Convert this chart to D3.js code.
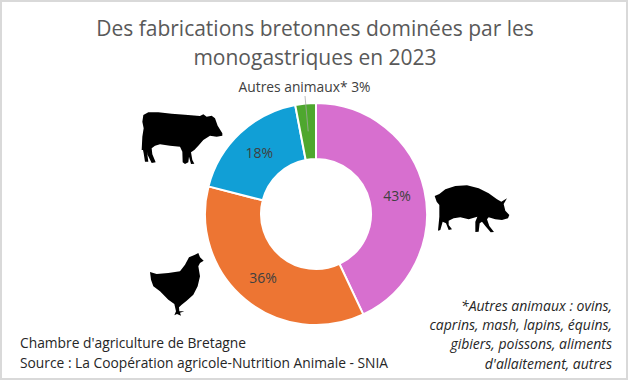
<!DOCTYPE html>
<html lang="fr">
<head>
<meta charset="utf-8">
<title>Fabrications bretonnes 2023</title>
<script src="https://cdn.jsdelivr.net/npm/d3@7"></script>
<style>
  html, body { margin: 0; padding: 0; background: #fff; }
  svg { display: block; }
  text { font-family: "Open Sans", "Noto Sans", sans-serif; }
</style>
</head>
<body>
<div id="chart"></div>
<script>
const categories = ['Porcs', 'Volailles', 'Bovins', 'Autres animaux*'];
const shares = [43, 36, 18, 3];
const sliceColors = ['#d76fcf', '#ed7533', '#119fd6', '#4ea72e'];
const titleLines = ['Des fabrications bretonnes dominées par les', 'monogastriques en 2023'];
const sourceLines = ["Chambre d'agriculture de Bretagne", 'Source : La Coopération agricole-Nutrition Animale - SNIA'];
const noteLines = ['*Autres animaux : ovins,', 'caprins, mash, lapins, équins,', 'gibiers, poissons, aliments', "d'allaitement, autres"];

// Silhouette outlines, traced on the zoomed crops (3x)
const cowShape = [[25,30],[40,22],[70,22],[110,26],[150,29],[195,33],[205,28],[215,35],[230,32],[240,40],[248,62],[262,85],[262,92],[245,95],[225,92],[205,105],[190,122],[178,135],[168,142],[172,165],[178,176],[168,177],[162,155],[160,172],[150,177],[143,172],[142,140],[135,125],[105,122],[75,118],[60,122],[50,130],[52,148],[62,172],[50,174],[38,150],[36,140],[40,170],[30,170],[26,145],[24,135],[20,135],[22,95],[26,70],[22,50]];
const pigShape = [[8,48],[22,42],[40,28],[70,18],[105,16],[140,25],[170,40],[195,58],[208,65],[225,55],[215,72],[220,92],[232,105],[228,115],[210,120],[190,118],[170,112],[165,118],[172,138],[186,156],[176,157],[160,138],[150,125],[143,130],[140,155],[130,156],[130,125],[136,110],[110,118],[85,112],[65,115],[50,122],[50,135],[60,148],[50,150],[42,130],[32,125],[25,150],[18,152],[22,110],[22,75],[14,65]];
const henShape = [[15,72],[35,78],[70,75],[105,70],[120,50],[132,28],[150,20],[160,15],[165,28],[176,38],[165,45],[160,55],[165,85],[158,115],[145,140],[125,158],[110,170],[102,178],[103,190],[118,190],[105,194],[108,203],[96,198],[88,202],[93,190],[88,168],[70,155],[45,130],[25,115],[18,95]];

const width = 629;
const height = 381;
const center = { x: 316, y: 214 };
const outerRadius = 111;
const innerRadius = 55;

const svg = d3.select('#chart')
  .append('svg')
  .attr('width', width)
  .attr('height', height)
  .attr('viewBox', `0 0 ${width} ${height}`);

svg.append('rect')
  .attr('x', 1)
  .attr('y', 1)
  .attr('width', width - 3)
  .attr('height', height - 3)
  .attr('fill', '#fff')
  .attr('stroke', '#d9d9d9')
  .attr('stroke-width', 2);

// Title
svg.append('g')
  .selectAll('text')
  .data(titleLines)
  .join('text')
  .attr('x', 315)
  .attr('y', (_d, i) => 36 + i * 29)
  .attr('text-anchor', 'middle')
  .attr('font-size', 21)
  .attr('fill', '#595959')
  .text((d) => d);

// Donut
const pie = d3.pie().sort(null).value((d) => d.value);
const arc = d3.arc().innerRadius(innerRadius).outerRadius(outerRadius);
const slices = pie(categories.map((name, i) => ({ name, value: shares[i] })));
const color = d3.scaleOrdinal().domain(categories).range(sliceColors);

const donut = svg.append('g').attr('transform', `translate(${center.x},${center.y})`);

donut.selectAll('path')
  .data(slices)
  .join('path')
  .attr('d', arc)
  .attr('fill', (d) => color(d.data.name))
  .attr('stroke', '#fff')
  .attr('stroke-width', 2);

// Percent labels, the small slice gets its label outside
donut.selectAll('text')
  .data(slices.slice(0, 3))
  .join('text')
  .attr('x', (d) => arc.centroid(d)[0])
  .attr('y', (d) => arc.centroid(d)[1])
  .attr('dy', '0.35em')
  .attr('text-anchor', 'middle')
  .attr('font-size', 14)
  .attr('fill', '#404040')
  .text((d) => `${d.data.value}%`);

const small = slices[3];
const smallMid = arc.centroid(small);
donut.append('line')
  .attr('x1', -11)
  .attr('y1', -118)
  .attr('x2', smallMid[0])
  .attr('y2', smallMid[1])
  .attr('stroke', '#a6a6a6')
  .attr('stroke-width', 0.75);

svg.append('text')
  .attr('x', 304.5)
  .attr('y', 92)
  .attr('text-anchor', 'middle')
  .attr('font-size', 13.8)
  .attr('fill', '#404040')
  .text(`${small.data.name} ${small.data.value}%`);

// Animal silhouettes
const outline = d3.line().curve(d3.curveLinearClosed);
const animals = [
  { shape: cowShape, x: 135, y: 105 },
  { shape: pigShape, x: 432, y: 180 },
  { shape: henShape, x: 145, y: 248 },
];
svg.append('g')
  .selectAll('path')
  .data(animals)
  .join('path')
  .attr('transform', (d) => `translate(${d.x},${d.y}) scale(${1 / 3})`)
  .attr('d', (d) => outline(d.shape))
  .attr('fill', '#000');

// Source, bottom left
svg.append('g')
  .selectAll('text')
  .data(sourceLines)
  .join('text')
  .attr('x', 20)
  .attr('y', (_d, i) => 348 + i * 19.5)
  .attr('font-size', 13.8)
  .attr('fill', '#262626')
  .text((d) => d);

// Note, bottom right
svg.append('g')
  .selectAll('text')
  .data(noteLines)
  .join('text')
  .attr('x', 612)
  .attr('y', (_d, i) => 311 + i * 19.2)
  .attr('text-anchor', 'end')
  .attr('font-size', 14)
  .attr('font-style', 'italic')
  .attr('fill', '#262626')
  .text((d) => d);
</script>
</body>
</html>
